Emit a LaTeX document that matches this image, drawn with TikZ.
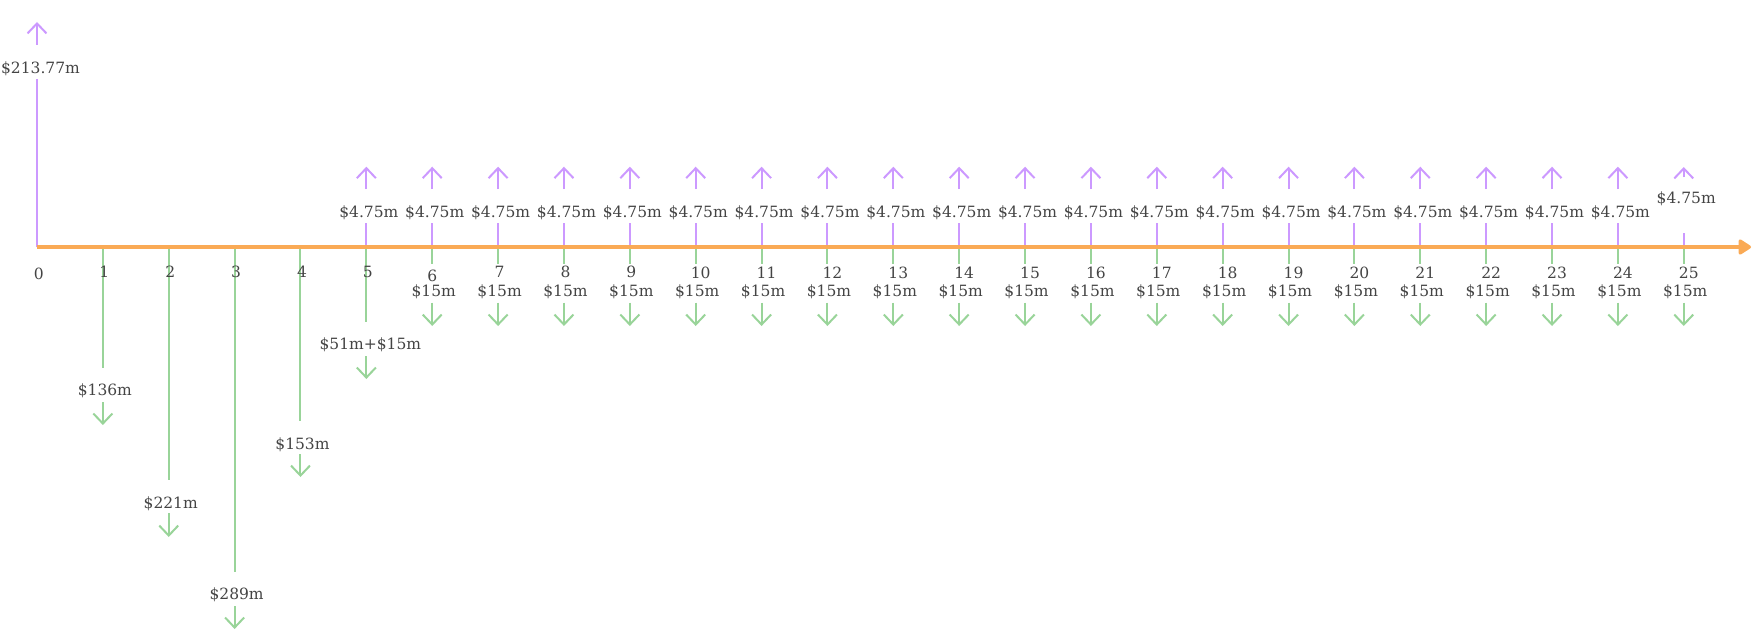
\documentclass[tikz,border=0pt]{standalone}
\usepackage{fontspec}
\setmainfont{DejaVu Serif}
\usetikzlibrary{arrows.meta}
\definecolor{pur}{HTML}{CC99FF}
\definecolor{grn}{HTML}{99D499}
\definecolor{org}{HTML}{FAAA55}
\definecolor{txt}{HTML}{444444}
\tikzset{
  lbl/.style={text=txt, font=\fontsize{15.5}{18}\selectfont, inner sep=0pt, yshift=-2pt},
  pflow/.style={draw=pur, line width=2pt},
  gflow/.style={draw=grn, line width=2pt},
  head/.style={-{Straight Barb[length=10pt,width=19pt]}},
  axisline/.style={draw=org, line width=3.3pt, -{Triangle[length=14pt,width=17pt,round]}}
}
\begin{document}
\begin{tikzpicture}[x=1pt,y=-1pt]
\useasboundingbox (0,0) rectangle (1764,642);
% axis points
\foreach \i in {0,...,25}{
  \pgfmathsetmacro\x{37+65.87*\i}
  \coordinate (a\i) at (\x,247);
}
\coordinate (aend) at (1751,247);
% ---- purple inflow at 0
\node[lbl] (p0) at (40.5,67) {\$213.77m};
\coordinate (pb0) at (37,79);
\coordinate (ps0) at (37,45);
\coordinate (pt0) at (37,22);
\draw[pflow] (a0) -- (pb0);
\draw[pflow,head] (ps0) -- (pt0);
% ---- purple inflows 5..24
\foreach \i in {5,...,24}{
  \pgfmathsetmacro\x{37+65.87*\i}
  \node[lbl] (p\i) at (\x+2.5,211) {\$4.75m};
  \coordinate (pb\i) at (\x,222.7);
  \coordinate (ps\i) at (\x,189);
  \coordinate (pt\i) at (\x,166.7);
  \draw[pflow] (a\i) -- (pb\i);
  \draw[pflow,head] (ps\i) -- (pt\i);
}
% ---- purple inflow 25
\pgfmathsetmacro\xx{37+65.87*25}
\node[lbl] (p25) at (\xx+2.5,196.7) {\$4.75m};
\coordinate (pb25) at (\xx,233);
\coordinate (ps25) at (\xx,177);
\coordinate (pt25) at (\xx,167);
\draw[pflow] (a25) -- (pb25);
\draw[pflow,head] (ps25) -- (pt25);
% ---- green outflows 1..5
\foreach \i/\le/\ly/\ls/\lt/\txtv/\dx in {1/368/389/402/425/\$136m/2,
    2/480/502/513/537/\$221m/2,
    3/572/593/606/629/\$289m/2,
    4/421/443/454/477/\$153m/2,
    5/321.7/343/356/379/\$51m+\$15m/4}{
  \pgfmathsetmacro\x{37+65.87*\i}
  \node[lbl] (g\i) at (\x+\dx,\ly) {\txtv};
  \coordinate (gb\i) at (\x,\le);
  \coordinate (gs\i) at (\x,\ls);
  \coordinate (gt\i) at (\x,\lt);
  \draw[gflow] (a\i) -- (gb\i);
  \draw[gflow,head] (gs\i) -- (gt\i);
}
% ---- green outflows 6..25
\foreach \i in {6,...,25}{
  \pgfmathsetmacro\x{37+65.87*\i}
  \node[lbl] (g\i) at (\x+1.5,290) {\$15m};
  \coordinate (gb\i) at (\x,264);
  \coordinate (gs\i) at (\x,302.7);
  \coordinate (gt\i) at (\x,326);
  \draw[gflow] (a\i) -- (gb\i);
  \draw[gflow,head] (gs\i) -- (gt\i);
}
% ---- axis
\draw[axisline] (a0) -- (aend);
% ---- period numbers
\node[lbl] (n0) at (38.7,271.7) {0};
\foreach \i in {1,2,3,4,5,7,8,9}{
  \pgfmathsetmacro\x{37+65.87*\i}
  \node[lbl] (n\i) at (\x+1.5,270) {\i};
}
\pgfmathsetmacro\xs{37+65.87*6}
\node[lbl] (n6) at (\xs,274) {6};
\foreach \i in {10,...,25}{
  \pgfmathsetmacro\x{37+65.87*\i}
  \node[lbl] (n\i) at (\x+5,270.5) {\i};
}
\end{tikzpicture}
\end{document}
